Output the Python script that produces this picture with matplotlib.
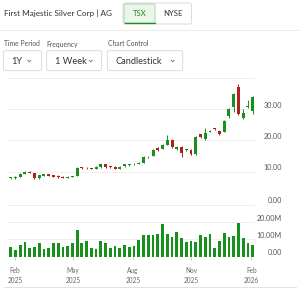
import matplotlib
matplotlib.use("Agg")
import matplotlib.pyplot as plt
from matplotlib.patches import FancyBboxPatch
import numpy as np

plt.rcParams['font.family'] = ['Lato', 'DejaVu Sans']

# weekly candles, TSX (CAD), Feb 2025 - Feb 2026
opens = [7.9, 7.9, 8.4, 9.4, 10.0, 9.6, 7.9, 8.7, 9.3, 8.9,
         8.7, 8.4, 8.1, 8.3, 8.6, 11.4, 11.1, 11.0, 10.9, 11.4,
         12.5, 11.8, 11.6, 10.9, 11.7, 12.1, 12.4, 12.5, 12.9, 14.6,
         15.0, 17.6, 17.4, 18.6, 20.2, 17.2, 18.0, 16.9, 16.9, 15.6,
         21.9, 20.3, 22.8, 23.9, 22.9, 22.8, 27.9, 30.6, 37.1, 27.0,
         30.5, 29.5]
closes = [8.3, 8.4, 9.4, 10.0, 9.7, 7.9, 8.9, 9.3, 8.7, 8.4,
          8.3, 8.1, 8.4, 8.6, 11.3, 11.1, 11.2, 10.9, 11.5, 12.5,
          11.4, 11.5, 10.8, 11.6, 12.3, 12.3, 12.5, 12.9, 14.7, 14.8,
          16.9, 16.8, 18.5, 20.0, 17.9, 18.0, 15.9, 17.1, 15.6, 21.2,
          21.2, 22.2, 23.1, 23.5, 21.9, 26.3, 29.9, 34.8, 28.3, 28.6,
          30.9, 33.9]
highs = [8.4, 8.5, 9.5, 10.1, 10.1, 9.7, 9.0, 9.4, 9.4, 9.0,
         8.8, 8.5, 8.5, 8.7, 11.5, 11.6, 11.4, 11.2, 11.7, 12.6,
         12.6, 11.9, 11.8, 11.8, 12.5, 12.5, 12.7, 13.1, 14.9, 15.0,
         17.2, 17.8, 18.7, 21.8, 20.4, 18.3, 18.2, 17.4, 17.2, 21.4,
         22.1, 23.8, 23.3, 24.1, 23.0, 26.6, 30.3, 35.1, 38.1, 30.0,
         32.9, 34.1]
lows = [7.8, 7.8, 8.3, 9.2, 9.5, 7.8, 7.8, 8.5, 8.6, 8.2,
        8.1, 7.9, 8.0, 8.2, 8.5, 10.9, 10.9, 10.7, 10.8, 11.3,
        11.3, 11.3, 10.7, 10.8, 11.6, 11.9, 12.2, 12.4, 12.8, 14.4,
        14.9, 16.6, 17.2, 18.4, 17.7, 16.9, 14.6, 16.7, 15.4, 15.4,
        20.9, 20.1, 22.6, 23.3, 21.6, 22.6, 27.0, 29.1, 28.1, 26.7,
        30.2, 28.3]
volumes_m = [5.7, 3.8, 6.7, 8.2, 4.8, 5.5, 8.0, 4.4, 4.8, 8.0,
             8.0, 5.3, 5.9, 7.6, 15.2, 8.0, 8.8, 5.0, 4.4, 8.8,
             7.6, 5.1, 5.9, 4.8, 6.5, 5.3, 6.3, 9.5, 12.2, 12.2,
             12.2, 12.8, 18.7, 13.1, 11.2, 14.1, 11.0, 8.4, 9.1, 8.6,
             12.6, 11.2, 13.1, 5.1, 9.3, 13.5, 11.2, 11.8, 19.4, 10.7,
             8.0, 6.5]
price_ticks = [10, 20, 30]
price_labels = ['10.00', '20.00', '30.00']
vol_ticks = [0, 10, 20, 30]
vol_labels = ['0.00', '10.00M', '20.00M', '0.00']
month_labels = ['Feb\n2025', 'May\n2025', 'Aug\n2025', 'Nov\n2025', 'Feb\n2026']
month_pos = [0.9, 13.1, 25.8, 38.0, 50.7]

GREEN = '#17901c'
RED = '#b0201c'
GRID = '#ececec'
W, H = 300, 288

fig = plt.figure(figsize=(3.0, 2.88), dpi=100)

# overlay in pixel coordinates for the header widgets
bg = fig.add_axes([0, 0, 1, 1])
bg.set_xlim(0, W)
bg.set_ylim(H, 0)
bg.axis('off')

bg.text(3.5, 13.5, 'First Majestic Silver Corp | AG', fontsize=5.9, color='#333333',
        va='center', ha='left')
bg.add_patch(FancyBboxPatch((123, 3), 68.5, 21, boxstyle='round,pad=0,rounding_size=2',
                            fc='white', ec='#d6d6d6', lw=0.6))
bg.add_patch(FancyBboxPatch((124, 4), 31, 19, boxstyle='round,pad=0,rounding_size=1.5',
                            fc='#eaf6ea', ec='#9fd09f', lw=0.6))
bg.plot([124.5, 154.5], [22.6, 22.6], color=GREEN, lw=0.9)
bg.text(140, 14, 'TSX', fontsize=5.6, color=GREEN, ha='center', va='center')
bg.text(173.3, 14, 'NYSE', fontsize=5.6, color='#333333', ha='center', va='center')
bg.plot([0, W], [29.5, 29.5], color='#e6e6e6', lw=0.6)

bg.text(4, 44, 'Time Period', fontsize=4.9, color='#555555', va='center')
bg.text(46.5, 44, 'Frequency', fontsize=4.9, color='#555555', va='center')
bg.text(107.5, 44, 'Chart Control', fontsize=4.9, color='#555555', va='center')

boxes = [(3.5, 38.2, '1Y', 11, 29.3), (46.7, 55, '1 Week', 55, 90.7),
         (107.3, 75.4, 'Candlestick', 116, 172.7)]
for x0, w, lbl, tx, cx in boxes:
    bg.add_patch(FancyBboxPatch((x0, 50.7), w, 20, boxstyle='round,pad=0,rounding_size=2',
                                fc='white', ec='#d6d6d6', lw=0.6))
    bg.text(tx, 61, lbl, fontsize=6.7, color='#333333', va='center', ha='left')
    bg.plot([cx - 1.4, cx, cx + 1.4], [60.3, 61.8, 60.3], color='#666666', lw=0.6)

bg.plot([4, 296], [286.5, 286.5], color='#dddddd', lw=0.6)

x = np.arange(len(opens))
x_lo = (7.3 - 10.7) / 4.745
x_hi = (255 - 10.7) / 4.745

# price panel
ax = fig.add_axes([7.3 / W, 1 - 184 / H, (255 - 7.3) / W, (184 - 77.7) / H])
ax.set_xlim(x_lo, x_hi)
ax.set_ylim(6.07, 40)
for v in price_ticks + [40]:
    ax.axhline(v, color=GRID, lw=0.6, zorder=0)
for i in x:
    o, c = opens[i], closes[i]
    col = GREEN if c >= o else RED
    ax.vlines(i, lows[i], highs[i], color=col, lw=0.7, zorder=2)
    ax.bar(i, max(abs(c - o), 0.18), bottom=min(o, c), width=0.62, color=col, lw=0, zorder=3)
for v, lbl in zip(price_ticks, price_labels):
    ax.annotate(lbl, xy=(1, v), xycoords=('axes fraction', 'data'), xytext=(27, 3.7),
                textcoords='offset pixels', ha='right', va='center', fontsize=5.1,
                color='#555555', annotation_clip=False)
ax.axis('off')

# volume panel
vx = fig.add_axes([7.3 / W, 1 - 256.7 / H, (255 - 7.3) / W, (256.7 - 203.3) / H])
vx.set_xlim(x_lo, x_hi)
vx.set_ylim(0, 30.7)
for v in vol_ticks[1:]:
    vx.axhline(v, color=GRID, lw=0.6, zorder=0)
vx.bar(x, volumes_m, width=0.58, color=GREEN, lw=0, zorder=2)
for v, lbl in zip(vol_ticks, vol_labels):
    vx.annotate(lbl, xy=(1, v), xycoords=('axes fraction', 'data'), xytext=(27, 3.8),
                textcoords='offset pixels', ha='right', va='center', fontsize=5.1,
                color='#555555', annotation_clip=False)
for s in vx.spines.values():
    s.set_visible(False)
vx.set_yticks([])
vx.set_xticks(month_pos)
vx.set_xticklabels(month_labels, fontsize=4.7, color='#666666', linespacing=1.45)
vx.tick_params(axis='x', length=2.5, width=0.5, color='#bbbbbb', pad=5)

fig.savefig('out.png', dpi=100, facecolor='white')
